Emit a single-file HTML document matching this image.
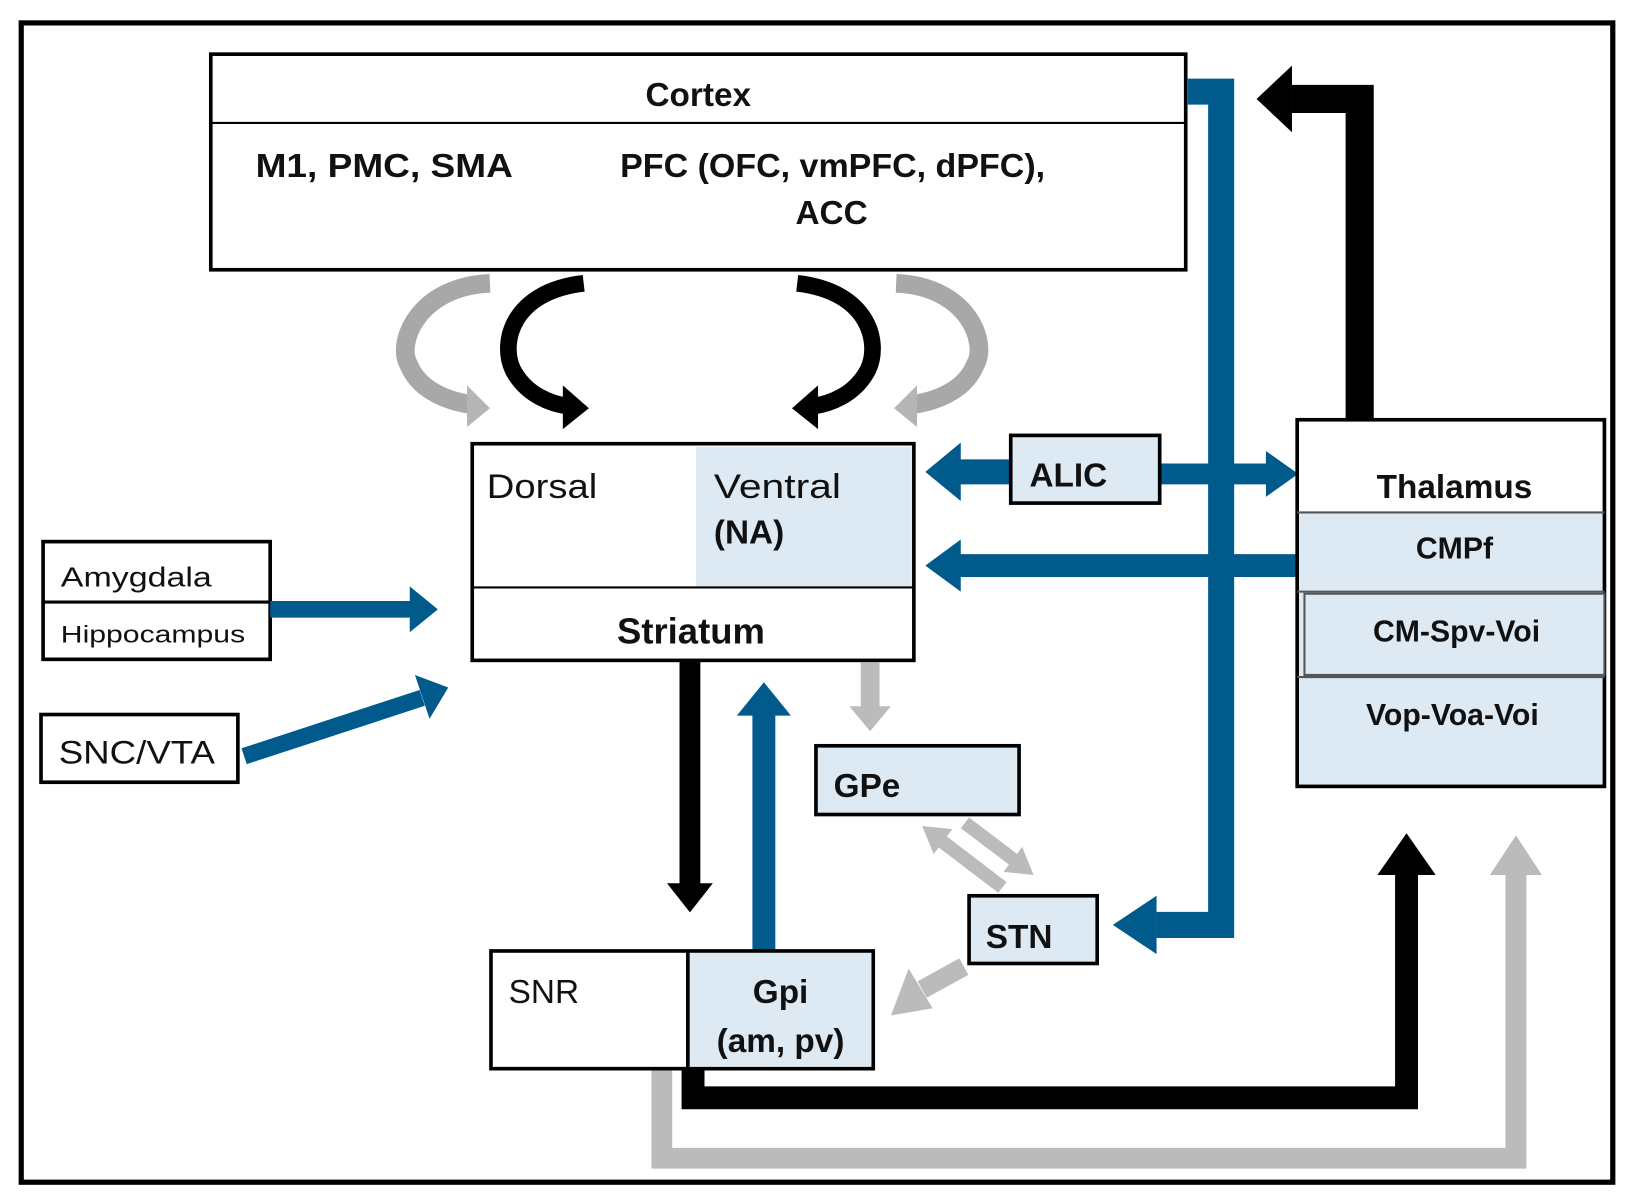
<!DOCTYPE html>
<html><head><meta charset="utf-8"><style>
html,body{margin:0;padding:0;background:#fff;}
svg{display:block;}
text{font-family:"Liberation Sans","DejaVu Sans",sans-serif;fill:#111;}
.b{font-weight:bold;}
</style></head><body>
<svg width="1634" height="1202" viewBox="0 0 1568 1154" xmlns="http://www.w3.org/2000/svg">
<rect x="0" y="0" width="1568" height="1154" fill="#fff"/>
<rect x="20" y="22" width="1528" height="1113" fill="none" stroke="#000" stroke-width="5"/>

<polyline points="635,1026 635,1112 1455,1112 1455,840" fill="none" stroke="#bbb" stroke-width="20"/>
<polygon points="1430,840 1480,840 1455,802" fill="#bbb"/>
<polyline points="665,1026 665,1054 1350,1054 1350,840" fill="none" stroke="#000" stroke-width="22"/>
<polygon points="1322,840 1378,840 1350,800" fill="#000"/>

<polyline points="1140,88 1172,88 1172,888 1110,888" fill="none" stroke="#005b8c" stroke-width="25"/>
<polygon points="1110,860 1110,916 1068,888" fill="#005b8c"/>

<polyline points="1305,403 1305,95 1240,95" fill="none" stroke="#000" stroke-width="27"/>
<polygon points="1240,63 1240,127 1206,95" fill="#000"/>

<rect x="202" y="52" width="936" height="207" fill="#fff" stroke="#000" stroke-width="3.5"/>
<line x1="202" y1="118" x2="1138" y2="118" stroke="#000" stroke-width="2"/>
<text x="670" y="102" class="b" font-size="32" text-anchor="middle">Cortex</text>
<text x="245" y="170" class="b" font-size="32" textLength="247" lengthAdjust="spacingAndGlyphs">M1, PMC, SMA</text>
<text x="595" y="170" class="b" font-size="32" textLength="408" lengthAdjust="spacingAndGlyphs">PFC (OFC, vmPFC, dPFC),</text>
<text x="798" y="215" class="b" font-size="32" text-anchor="middle">ACC</text>

<path d="M470,272 C400,275 380,330 392,350 C402,375 430,385 450,388" fill="none" stroke="#a8a8a8" stroke-width="18"/>
<polygon points="448,370 470,392 448,410" fill="#b5b5b5"/>
<path d="M560,272 C490,280 480,330 492,355 C505,380 530,388 545,390" fill="none" stroke="#000" stroke-width="16"/>
<polygon points="540,370 565,392 540,412" fill="#000"/>
<path d="M765,272 C835,280 845,330 833,355 C820,380 795,388 780,390" fill="none" stroke="#000" stroke-width="16"/>
<polygon points="785,370 760,392 785,412" fill="#000"/>
<path d="M860,272 C930,275 948,330 936,350 C926,375 898,385 878,388" fill="none" stroke="#a8a8a8" stroke-width="18"/>
<polygon points="880,370 858,392 880,410" fill="#b5b5b5"/>

<rect x="453" y="426" width="424" height="208" fill="#fff" stroke="#000" stroke-width="3.5"/>
<rect x="668" y="429" width="207" height="134" fill="#dde9f3"/>
<line x1="453" y1="564" x2="877" y2="564" stroke="#000" stroke-width="2"/>
<text x="467" y="478" font-size="33" textLength="106" lengthAdjust="spacingAndGlyphs">Dorsal</text>
<text x="685" y="478" font-size="33" textLength="122" lengthAdjust="spacingAndGlyphs">Ventral</text>
<text x="685" y="522" class="b" font-size="32">(NA)</text>
<text x="663" y="618" class="b" font-size="35" text-anchor="middle">Striatum</text>

<rect x="41" y="520" width="218" height="113" fill="#fff" stroke="#000" stroke-width="3.5"/>
<line x1="41" y1="578" x2="259" y2="578" stroke="#000" stroke-width="3"/>
<text x="58" y="563" font-size="27" textLength="145" lengthAdjust="spacingAndGlyphs">Amygdala</text>
<text x="58" y="617" font-size="23" textLength="177" lengthAdjust="spacingAndGlyphs">Hippocampus</text>
<line x1="259" y1="585" x2="395" y2="585" stroke="#005b8c" stroke-width="16"/>
<polygon points="393,563 393,607 420,585" fill="#005b8c"/>

<rect x="39" y="686" width="189" height="65" fill="#fff" stroke="#000" stroke-width="3.5"/>
<text x="56" y="733" font-size="31" textLength="150" lengthAdjust="spacingAndGlyphs">SNC/VTA</text>
<line x1="234" y1="726" x2="405" y2="670" stroke="#005b8c" stroke-width="16"/>
<polygon points="398,648 412,690 430,660" fill="#005b8c"/>

<line x1="920" y1="453" x2="970" y2="453" stroke="#005b8c" stroke-width="24"/>
<polygon points="922,425 922,481 888,453" fill="#005b8c"/>
<line x1="1113" y1="455" x2="1218" y2="455" stroke="#005b8c" stroke-width="20"/>
<polygon points="1215,433 1215,477 1246,455" fill="#005b8c"/>
<rect x="970" y="418" width="143" height="65" fill="#dde9f3" stroke="#000" stroke-width="3.5"/>
<text x="988" y="467" class="b" font-size="32">ALIC</text>

<line x1="920" y1="543" x2="1245" y2="543" stroke="#005b8c" stroke-width="22"/>
<polygon points="922,518 922,568 888,543" fill="#005b8c"/>

<rect x="1245" y="403" width="295" height="352" fill="#dde9f3" stroke="#000" stroke-width="3.5"/>
<rect x="1247" y="405" width="291" height="87" fill="#fff"/>
<line x1="1245" y1="492" x2="1540" y2="492" stroke="#555" stroke-width="2"/>
<line x1="1245" y1="568" x2="1540" y2="568" stroke="#555" stroke-width="2"/>
<rect x="1252" y="570" width="288" height="78" fill="#dde9f3" stroke="#555" stroke-width="2"/>
<line x1="1245" y1="650" x2="1540" y2="650" stroke="#555" stroke-width="2"/>
<text x="1396" y="478" class="b" font-size="32" text-anchor="middle">Thalamus</text>
<text x="1396" y="536" class="b" font-size="29" text-anchor="middle">CMPf</text>
<text x="1398" y="616" class="b" font-size="29" text-anchor="middle">CM-Spv-Voi</text>
<text x="1394" y="696" class="b" font-size="29" text-anchor="middle">Vop-Voa-Voi</text>

<line x1="662" y1="634" x2="662" y2="850" stroke="#000" stroke-width="20"/>
<polygon points="640,848 684,848 662,876" fill="#000"/>
<line x1="733" y1="685" x2="733" y2="912" stroke="#005b8c" stroke-width="22"/>
<polygon points="707,687 759,687 733,655" fill="#005b8c"/>

<line x1="835" y1="636" x2="835" y2="680" stroke="#bbb" stroke-width="18"/>
<polygon points="815,678 855,678 835,702" fill="#bbb"/>

<rect x="783" y="716" width="195" height="66" fill="#dde9f3" stroke="#000" stroke-width="3.5"/>
<text x="800" y="765" class="b" font-size="32">GPe</text>

<line x1="962" y1="852" x2="903" y2="807" stroke="#bbb" stroke-width="13"/>
<polygon points="885,793 896,820 914,796" fill="#bbb"/>
<line x1="926" y1="790" x2="975" y2="827" stroke="#bbb" stroke-width="13"/>
<polygon points="992,840 963,837 981,813" fill="#bbb"/>

<rect x="930" y="860" width="123" height="65" fill="#dde9f3" stroke="#000" stroke-width="3.5"/>
<text x="946" y="910" class="b" font-size="32">STN</text>

<line x1="925" y1="928" x2="885" y2="950" stroke="#bbb" stroke-width="18"/>
<polygon points="872,930 895,968 855,975" fill="#bbb"/>

<rect x="471" y="913" width="367" height="113" fill="#fff" stroke="#000" stroke-width="3.5"/>
<rect x="660" y="915" width="176" height="109" fill="#dde9f3"/>
<line x1="660" y1="913" x2="660" y2="1026" stroke="#000" stroke-width="3.5"/>
<text x="488" y="963" font-size="32">SNR</text>
<text x="749" y="963" class="b" font-size="32" text-anchor="middle">Gpi</text>
<text x="749" y="1010" class="b" font-size="32" text-anchor="middle">(am, pv)</text>
</svg>
</body></html>
